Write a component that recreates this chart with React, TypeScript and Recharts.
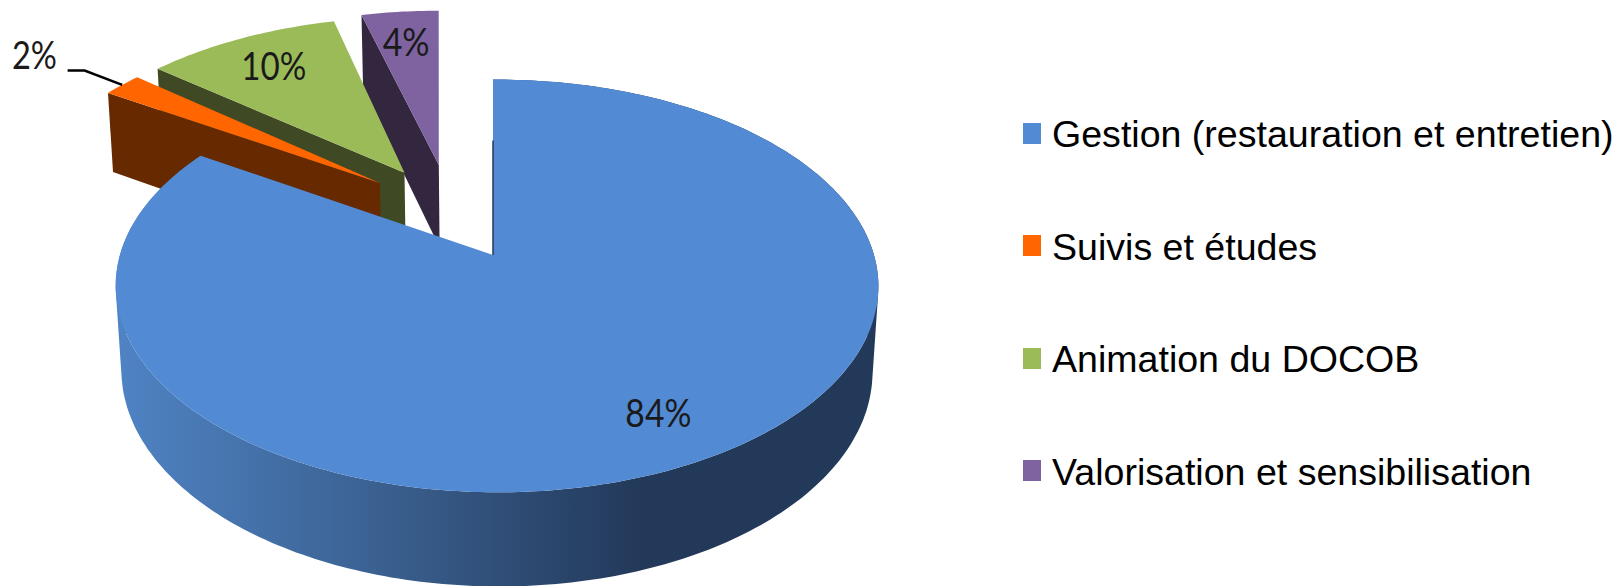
import { Legend, Pie, PieChart } from "recharts";

// reversed below so that the big slice paints last, as in the original
const categories = [
  "Gestion (restauration et entretien)",
  "Suivis et études",
  "Animation du DOCOB",
  "Valorisation et sensibilisation",
];
const values = [84, 2, 10, 4];

const topColors = ["#528AD4", "#FF6600", "#9BBB59", "#7F63A1"];
const sideColors = ["#23395A", "#662900", "#3F4A24", "#33263F"];

// how far each slice is pulled out of the pie, in pie radii
const rimExplode = [
  [0, 0],
  [-0.317, 0.378],
  [-0.262, 0.434],
  [-0.176, 0.48],
];
const apexExplode = [
  [0, 0],
  [-0.317, 0.378],
  [-0.25, 0.434],
  [-0.154, 0.479],
];
// where the percentage sits along the middle of the slice, in pie radii
const labelRadius = [0.8, 1.34, 0.78, 0.78];
const labelWidth = [66, 45, 65, 47];
const labelShift = [3, -9, 1, 0];

const data = categories
  .map((name, i) => ({ name, value: values[i], fill: topColors[i], order: i }))
  .reverse();

const TILT = 0.535;
const PERSPECTIVE = 0.15;
const RAD = Math.PI / 180;

// the big slice is slightly yawed in the original, the small ones are not
const SLICE_TOP = { depth: 0, shrink: 0, yaw: 0 };
const SLICE_BOTTOM = { depth: 0.235, shrink: 0.015, yaw: 0 };
const MAIN_TOP = { depth: 0, shrink: 0, yaw: -0.0105 };
const MAIN_BOTTOM = { depth: 0.2254, shrink: 0.015, yaw: -0.0105 };

function project(p: any, u: number, v: number, view: any) {
  const d = 1 + PERSPECTIVE * v + view.shrink + view.yaw * u;
  const y = -TILT * v + view.depth;
  return [p.cx + (p.outerRadius * u) / d, p.cy + (p.outerRadius * y) / d];
}

function toPath(points: number[][]) {
  return "M" + points.map((q) => q[0].toFixed(1) + " " + q[1].toFixed(1)).join("L") + "Z";
}

function arc(p: any, off: number[], from: number, to: number, view: any) {
  const n = Math.max(2, Math.ceil(Math.abs(to - from)));
  const out = [];
  for (let i = 0; i <= n; i++) {
    const a = (from + ((to - from) * i) / n) * RAD;
    out.push(project(p, off[0] + Math.cos(a), off[1] + Math.sin(a), view));
  }
  return out;
}

// quads between the two rims, all wound the same way so one path fills them without seams
function drumPath(top: number[][], lower: number[][]) {
  return top
    .slice(1)
    .map((q, i) => {
      const quad = [top[i], q, lower[i + 1], lower[i]];
      let area = 0;
      quad.forEach((s, j) => {
        const t = quad[(j + 1) % 4];
        area += s[0] * t[1] - t[0] * s[1];
      });
      return toPath(area < 0 ? quad.reverse() : quad);
    })
    .join("");
}

function Slice3D(props: any) {
  const { startAngle, endAngle, fill, payload } = props;
  const order = payload?.order ?? props.order;
  const off = rimExplode[order];
  const mid = apexExplode[order];

  if (order === 0) {
    const apex = project(props, 0, 0, MAIN_TOP);
    const top = arc(props, off, startAngle, endAngle, MAIN_TOP);
    const lower = arc(props, off, startAngle, endAngle, MAIN_BOTTOM);
    const left = project(props, -1, 0, MAIN_TOP);
    const right = project(props, 1, 0, MAIN_TOP);
    return (
      <g>
        <defs>
          <linearGradient id="frontWall" gradientUnits="userSpaceOnUse" x1={left[0]} y1={0} x2={right[0]} y2={0}>
            <stop offset="0" stopColor="#4F83C4" />
            <stop offset="0.32" stopColor="#3C6394" />
            <stop offset="0.69" stopColor={sideColors[0]} />
            <stop offset="1" stopColor={sideColors[0]} />
          </linearGradient>
        </defs>
        <path d={drumPath(top, lower)} fill="url(#frontWall)" fillRule="nonzero" />
        <path d={toPath([apex, ...top])} fill={fill} />
        <path d={toPath([apex, project(props, 0, 0.62, MAIN_TOP)])} stroke={sideColors[0]} strokeWidth={1.5} fill="none" />
      </g>
    );
  }

  const apex = project(props, mid[0], mid[1], SLICE_TOP);
  const top = arc(props, off, startAngle, endAngle, SLICE_TOP);
  const a = endAngle * RAD;
  const ex = off[0] + Math.cos(a);
  const ey = off[1] + Math.sin(a);
  const wall = [
    apex,
    project(props, ex, ey, SLICE_TOP),
    project(props, ex, ey, SLICE_BOTTOM),
    project(props, mid[0], mid[1], SLICE_BOTTOM),
  ];
  return (
    <g>
      <path d={toPath(wall)} fill={sideColors[order]} />
      <path d={toPath([apex, ...top])} fill={fill} />
    </g>
  );
}

function SliceLabel(props: any) {
  const { midAngle, payload, value } = props;
  const order = payload?.order ?? props.order;
  const off = rimExplode[order];
  const a = midAngle * RAD;
  const along = (r: number) => project(props, off[0] + r * Math.cos(a), off[1] + r * Math.sin(a), SLICE_TOP);
  const pos = along(labelRadius[order]);
  const text = (
    <text
      x={pos[0] + labelShift[order]}
      y={pos[1]}
      dy={14}
      textAnchor="middle"
      fontFamily="Lato"
      fontSize={39}
      fill="#1a1a1a"
      textLength={labelWidth[order]}
      lengthAdjust="spacingAndGlyphs"
    >
      {`${value}%`}
    </text>
  );
  if (order !== 1) return text;
  // the only label outside its slice gets a leader line
  const start = along(1);
  const elbow = along(1.16);
  return (
    <g>
      <path
        d={`M${start[0]} ${start[1]}L${elbow[0]} ${elbow[1]}L${elbow[0] - 17} ${elbow[1]}`}
        stroke="#000"
        strokeWidth={2.5}
        fill="none"
      />
      {text}
    </g>
  );
}

function LegendList() {
  return (
    <div style={{ position: "relative", width: 1621, height: 586 }}>
      {categories.map((name, i) => (
        <div key={name}>
          <div
            style={{
              position: "absolute",
              left: 1023,
              top: 123 + i * 112.4,
              width: 18,
              height: 21,
              background: topColors[i],
            }}
          />
          <span
            style={{
              position: "absolute",
              left: 1052,
              top: 113 + i * 112.7,
              fontFamily: "Liberation Sans",
              fontSize: 37,
              lineHeight: "44px",
              whiteSpace: "nowrap",
              color: "#000",
              transform: "scaleX(1.015)",
              transformOrigin: "left center",
            }}
          >
            {name}
          </span>
        </div>
      ))}
    </div>
  );
}

export default function App() {
  return (
    <div style={{ position: "absolute", left: 0, top: 0, width: 1621, height: 586, background: "#fff", overflow: "hidden" }}>
      <PieChart width={1621} height={586} margin={{ top: 0, right: 0, bottom: 0, left: 0 }}>
        <Pie
          data={data}
          dataKey="value"
          nameKey="name"
          cx={493}
          cy={255}
          outerRadius={377}
          startAngle={90}
          endAngle={450}
          stroke="none"
          shape={Slice3D}
          label={SliceLabel}
          labelLine={false}
          isAnimationActive={false}
        />
        <Legend
          content={LegendList}
          wrapperStyle={{ left: 0, top: 0, width: 1621, height: 586 }}
        />
      </PieChart>
    </div>
  );
}
